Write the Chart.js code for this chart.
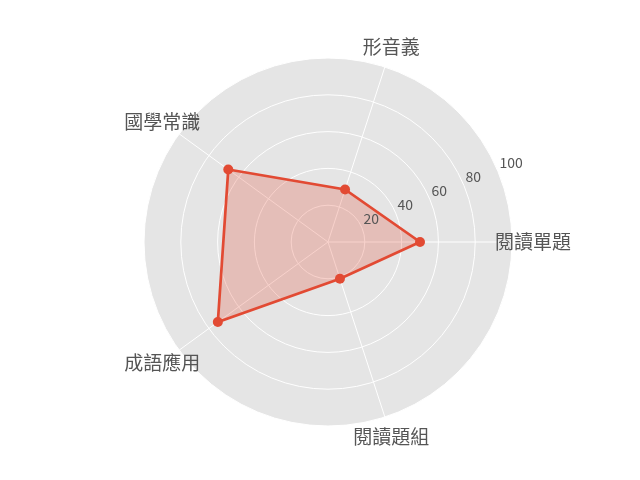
<!DOCTYPE html>
<html>
<head>
<meta charset="utf-8">
<script src="https://cdn.jsdelivr.net/npm/chart.js@4/dist/chart.umd.min.js"></script>
<style>
  html, body { margin: 0; padding: 0; background: #ffffff; }
  #wrap { width: 640px; height: 480px; }
</style>
</head>
<body>
<div id="wrap"><canvas id="c" width="640" height="480"></canvas></div>
<script>
// Data (original order, counter-clockwise from the right)
const categories = ['閱讀單題', '形音義', '國學常識', '成語應用', '閱讀題組'];
const scores = [50, 30, 67, 74, 21];
const tickValues = [20, 40, 60, 80, 100];

// Chart.js radar goes clockwise: keep first item at right, reverse the rest
const order = [0, ...categories.map((_, i) => i).slice(1).reverse()];
const chartLabels = order.map(i => categories[i]);
const chartValues = order.map(i => scores[i]);

const FONT = "'Noto Sans CJK TC', 'Noto Sans CJK SC', 'Noto Sans', sans-serif";
const TEXT = '#555555';

const labelPlugin = {
  id: 'polarLabels',
  afterDraw(chart) {
    const s = chart.scales.r;
    const ctx = chart.ctx;
    ctx.save();
    // category labels centered just outside the disk
    ctx.font = '19px ' + FONT;
    ctx.fillStyle = TEXT;
    ctx.textAlign = 'center';
    ctx.textBaseline = 'middle';
    chartLabels.forEach((lab, i) => {
      const p = s.getPointPosition(i, s.drawingArea + 21);
      ctx.fillText(lab, p.x, p.y);
    });
    // radial tick labels at 22.5 degrees
    ctx.font = '14px ' + FONT;
    ctx.textAlign = 'left';
    const ang = -22.5 * Math.PI / 180;
    tickValues.forEach(v => {
      const d = s.getDistanceFromCenterForValue(v);
      const x = s.xCenter + Math.cos(ang) * d + 1.5;
      const y = s.yCenter + Math.sin(ang) * d - 8.8;
      ctx.fillText(String(v), x, y);
    });
    ctx.restore();
  }
};

new Chart(document.getElementById('c'), {
  type: 'radar',
  data: {
    labels: chartLabels,
    datasets: [{
      data: chartValues,
      borderColor: '#E24A33',
      backgroundColor: 'rgba(226,74,51,0.25)',
      borderWidth: 2.7,
      fill: true,
      pointRadius: 5,
      pointBackgroundColor: '#E24A33',
      pointBorderWidth: 0,
      tension: 0
    }]
  },
  options: {
    responsive: false,
    animation: false,
    devicePixelRatio: 1,
    layout: { padding: { left: 144, right: 128, top: 58, bottom: 54 } },
    plugins: { legend: { display: false }, tooltip: { enabled: false } },
    scales: {
      r: {
        min: 0,
        max: 100,
        startAngle: 90,
        backgroundColor: '#E5E5E5',
        grid: { circular: true, color: '#ffffff', lineWidth: 1 },
        angleLines: { color: '#ffffff', lineWidth: 1 },
        ticks: { display: false, stepSize: 20, showLabelBackdrop: false },
        pointLabels: { display: false }
      }
    }
  },
  plugins: [labelPlugin]
});
</script>
</body>
</html>
